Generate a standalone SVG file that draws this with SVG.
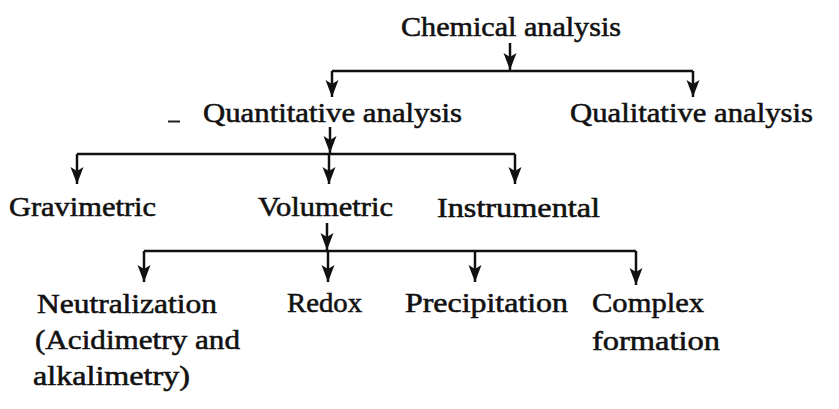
<svg xmlns="http://www.w3.org/2000/svg" width="839" height="409" viewBox="0 0 839 409">
  <style>
    .t { font-family: "Liberation Serif", "DejaVu Serif", serif; font-size: 27px; fill: #111; stroke: #111; stroke-width: 0.55; }
    .c { fill: none; stroke: #111; stroke-width: 2.5; stroke-linecap: butt; }
    .a { marker-end: url(#arr); }
  </style>
  <defs>
    <marker id="arr" markerUnits="userSpaceOnUse" markerWidth="20" markerHeight="20" refX="0" refY="0" orient="auto" overflow="visible">
      <path d="M0,0 L-17,-6.5 L-13,0 L-17,6.5 Z" fill="#111"/>
    </marker>
  </defs>
  <rect width="839" height="409" fill="#fff"/>

  <g id="connectors">
    <path class="c a" d="M510,43 V70"/>
    <path class="c" d="M332,71 H693"/>
    <path class="c a" d="M332,71 V97"/>
    <path class="c a" d="M693,71 V97"/>

    <path class="c a" d="M330,127 V153"/>
    <path class="c" d="M77,154 H515"/>
    <path class="c a" d="M77,154 V184"/>
    <path class="c a" d="M329,154 V184"/>
    <path class="c a" d="M515,154 V184"/>

    <path class="c a" d="M327,223 V250"/>
    <path class="c" d="M144,251 H636"/>
    <path class="c a" d="M144,251 V282"/>
    <path class="c a" d="M328,251 V282"/>
    <path class="c a" d="M475,251 V282"/>
    <path class="c a" d="M636,251 V285"/>
  </g>

  <path d="M168,121.5 H180" stroke="#222" stroke-width="2" fill="none"/>

  <g id="chemical-analysis"><text class="t" x="401" y="36" textLength="220" lengthAdjust="spacingAndGlyphs">Chemical analysis</text></g>
  <g id="quantitative-analysis"><text class="t" x="203" y="122" textLength="259" lengthAdjust="spacingAndGlyphs">Quantitative analysis</text></g>
  <g id="qualitative-analysis"><text class="t" x="570" y="122" textLength="243" lengthAdjust="spacingAndGlyphs">Qualitative analysis</text></g>
  <g id="gravimetric"><text class="t" x="9" y="216" textLength="147" lengthAdjust="spacingAndGlyphs">Gravimetric</text></g>
  <g id="volumetric"><text class="t" x="258" y="216" textLength="135" lengthAdjust="spacingAndGlyphs">Volumetric</text></g>
  <g id="instrumental"><text class="t" x="437" y="217" textLength="163" lengthAdjust="spacingAndGlyphs">Instrumental</text></g>
  <g id="neutralization">
    <text class="t" x="37" y="313" textLength="180" lengthAdjust="spacingAndGlyphs">Neutralization</text>
    <text class="t" x="35" y="349" textLength="205" lengthAdjust="spacingAndGlyphs">(Acidimetry and</text>
    <text class="t" x="33" y="385" textLength="157" lengthAdjust="spacingAndGlyphs">alkalimetry)</text>
  </g>
  <g id="redox"><text class="t" x="287" y="312" textLength="75" lengthAdjust="spacingAndGlyphs">Redox</text></g>
  <g id="precipitation"><text class="t" x="405" y="312" textLength="163" lengthAdjust="spacingAndGlyphs">Precipitation</text></g>
  <g id="complex-formation">
    <text class="t" x="592" y="312" textLength="112" lengthAdjust="spacingAndGlyphs">Complex</text>
    <text class="t" x="592" y="350" textLength="128" lengthAdjust="spacingAndGlyphs">formation</text>
  </g>
</svg>
